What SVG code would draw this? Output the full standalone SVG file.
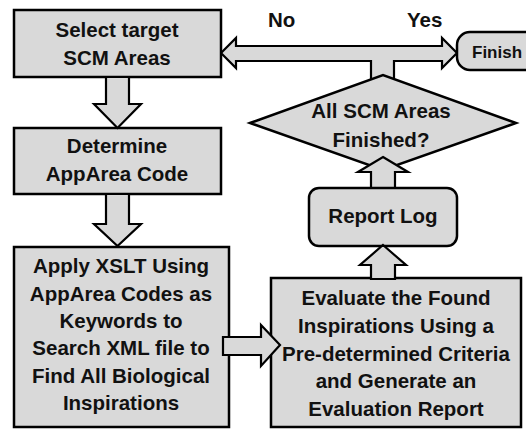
<svg xmlns="http://www.w3.org/2000/svg" width="526" height="429" viewBox="0 0 526 429">
<style>
.n{fill:#d9d9d9;stroke:#000;stroke-width:2.5;stroke-linejoin:miter}
.a{fill:#d9d9d9;stroke:#000;stroke-width:2.2;stroke-linejoin:miter}
text{font-family:"Liberation Sans",Arial,sans-serif;font-weight:bold;font-size:20.5px;fill:#111;text-anchor:middle}
</style>
<rect width="526" height="429" fill="#fff"/>
<g id="connectors-back">
<polygon class="a" points="221,53 236,38 236,46 442,46 442,38 457,53 442,68 442,61 394,61 394,84 371,84 371,61 236,61 236,68"/>
</g>
<g id="select">
<rect class="n" x="14" y="10" width="207" height="67"/>
<text x="117" y="37">Select target</text>
<text x="117" y="65">SCM Areas</text>
</g>
<g id="determine">
<rect class="n" x="14" y="128" width="207" height="66"/>
<text x="117" y="153">Determine</text>
<text x="117" y="181">AppArea Code</text>
</g>
<g id="apply">
<rect class="n" x="14" y="247" width="215" height="180"/>
<text x="121" y="273">Apply XSLT Using</text>
<text x="121" y="301">AppArea Codes as</text>
<text x="121" y="328">Keywords  to</text>
<text x="121" y="355">Search XML file to</text>
<text x="121" y="383">Find All Biological</text>
<text x="121" y="410">Inspirations</text>
</g>
<g id="evaluate">
<rect class="n" x="271" y="278" width="250" height="149"/>
<text x="396" y="305">Evaluate the Found</text>
<text x="396" y="333">Inspirations Using a</text>
<text x="396" y="361">Pre-determined Criteria</text>
<text x="396" y="388">and Generate an</text>
<text x="396" y="416">Evaluation Report</text>
</g>
<g id="decision">
<polygon class="n" points="250,123 383,75 516,123 383,170"/>
<text x="381" y="118">All SCM Areas</text>
<text x="381" y="147">Finished?</text>
</g>
<g id="finish">
<rect class="n" x="457" y="32" width="95" height="38" rx="13"/>
<text x="472" y="58" style="text-anchor:start;font-size:17px">Finish</text>
</g>
<g id="connectors">
<polygon class="a" points="106,77 129,77 129,104 141,104 117.5,128 94,104 106,104"/>
<polygon class="a" points="106,194 129,194 129,224 141,224 117.5,246 94,224 106,224"/>
<polygon class="a" points="223,337 261,337 261,325 280,345 261,366 261,355 223,355"/>
<polygon class="a" points="383,157 408,172 395,172 395,189 371,189 371,172 358,172"/>
</g>
<g id="report">
<rect class="n" x="309" y="188" width="148" height="58" rx="10"/>
<text x="383" y="223">Report Log</text>
</g>
<g id="connectors-front">
<polygon class="a" points="383,245 406,265 395,265 395,279 371,279 371,265 360,265"/>
</g>
<g id="labels">
<text x="268" y="27" style="text-anchor:start">No</text>
<text x="407" y="27" style="text-anchor:start">Yes</text>
</g>
</svg>
